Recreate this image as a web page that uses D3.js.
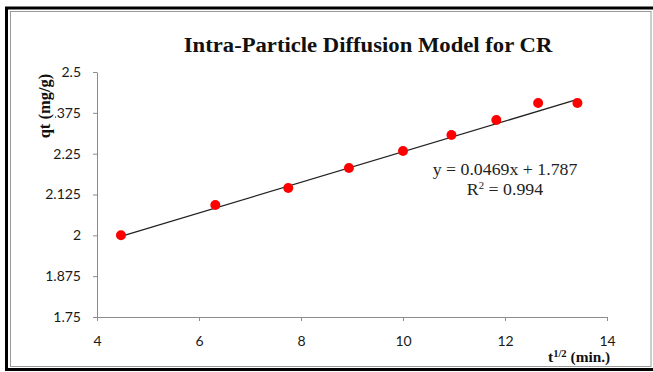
<!DOCTYPE html>
<html>
<head>
<meta charset="utf-8">
<script src="https://cdn.jsdelivr.net/npm/d3@7"></script>
<style>
  body { margin: 0; background: #fff; }
  .tick text { font-family: Lato, "Liberation Sans", sans-serif; font-size: 14px; fill: #1a1a1a; }
  .serif { font-family: "Liberation Serif", "Times New Roman", serif; }
</style>
</head>
<body>
<div id="chart"></div>
<script>
// ------------------------------------------------------------------------ //
// DATA
// ------------------------------------------------------------------------ //

// square root of time (min^1/2)
var tHalf = [4.47, 6.32, 7.75, 8.94, 10.0, 10.95, 11.83, 12.65, 13.42]
// qt (mg/g)
var qt = [2.0, 2.093, 2.145, 2.206, 2.258, 2.307, 2.353, 2.405, 2.405]

// linear trendline ends
var trendX = [4.47, 13.42]
var trendY = [1.997, 2.416]

var xTicks = [4, 6, 8, 10, 12, 14]
var yTicks = [1.75, 1.875, 2, 2.125, 2.25, 2.375, 2.5]
var yTickLabels = ["1.75", "1.875", "2", "2.125", "2.25", "2.375", "2.5"]

var title = "Intra-Particle Diffusion Model for CR"
var equation = "y = 0.0469x + 1.787"
var rSquared = "0.994"


// ------------------------------------------------------------------------ //
// SVG AREA
// ------------------------------------------------------------------------ //

var W = 653, H = 372
var svg = d3.select("#chart")
  .append("svg")
    .attr("width", W)
    .attr("height", H)

// frame: thick black outside, thin grey inside
svg.append("rect")
  .attr("x", 6.5).attr("y", 8)
  .attr("width", 660).attr("height", 361.5)
  .style("fill", "none")
  .style("stroke", "#000")
  .style("stroke-width", 3)
svg.append("rect")
  .attr("x", 10.5).attr("y", 11.5)
  .attr("width", 640.5).attr("height", 355)
  .style("fill", "none")
  .style("stroke", "#9a9a9a")
  .style("stroke-width", 1)


// ------------------------------------------------------------------------ //
// AXIS AND SCALE
// ------------------------------------------------------------------------ //

var x = d3.scaleLinear()
    .domain([4, 14])
    .range([97, 607])

var y = d3.scaleLinear()
    .domain([1.75, 2.5])
    .range([317, 72])

var xAxis = svg.append("g")
    .attr("transform", "translate(0," + y(1.75) + ")")
    .call(d3.axisBottom(x).tickValues(xTicks).tickSize(4).tickPadding(15).tickSizeOuter(0))

var yAxis = svg.append("g")
    .attr("transform", "translate(" + x(4) + ",0)")
    .call(d3.axisLeft(y).tickValues(yTicks).tickSize(4).tickPadding(12).tickSizeOuter(0)
      .tickFormat(function(d, i){ return yTickLabels[i] }))

svg.selectAll(".domain, .tick line")
  .style("stroke", "#8c8c8c")
  .style("stroke-width", 1)


// ------------------------------------------------------------------------ //
// TRENDLINE AND POINTS
// ------------------------------------------------------------------------ //

svg.append("line")
  .attr("x1", x(trendX[0])).attr("y1", y(trendY[0]))
  .attr("x2", x(trendX[1])).attr("y2", y(trendY[1]))
  .style("stroke", "#222")
  .style("stroke-width", 1.3)

svg.selectAll(".dot")
  .data(tHalf)
  .enter()
    .append("circle")
      .attr("class", "dot")
      .attr("cx", function(d){ return x(d) })
      .attr("cy", function(d, i){ return y(qt[i]) })
      .attr("r", 5)
      .style("fill", "#ff0000")


// ------------------------------------------------------------------------ //
// ANNOTATION
// ------------------------------------------------------------------------ //

// the source picture is a little stretched sideways
svg.append("text")
  .attr("class", "serif")
  .attr("transform", "translate(368,52) scale(1.08,1)")
  .attr("text-anchor", "middle")
  .style("font-size", "21px")
  .style("font-weight", "bold")
  .style("fill", "#111")
  .text(title)

// trendline label
svg.append("text")
  .attr("class", "serif")
  .attr("transform", "translate(505,175) scale(1.08,1)")
  .attr("text-anchor", "middle")
  .style("font-size", "16.5px")
  .style("fill", "#222")
  .text(equation)
var r2 = svg.append("text")
  .attr("class", "serif")
  .attr("transform", "translate(505,195) scale(1.08,1)")
  .attr("text-anchor", "middle")
  .style("font-size", "16.5px")
  .style("fill", "#222")
r2.append("tspan").text("R")
r2.append("tspan").attr("dy", -6).style("font-size", "10px").text("2")
r2.append("tspan").attr("dy", 6).text(" = " + rSquared)

// y axis title, white box behind it covers part of a tick label
var yTitle = svg.append("g")
  .attr("transform", "translate(50,106) rotate(-90)")
yTitle.append("rect")
  .attr("x", -35).attr("y", -14)
  .attr("width", 70).attr("height", 19)
  .style("fill", "#fff")
yTitle.append("text")
  .attr("class", "serif")
  .attr("text-anchor", "middle")
  .style("font-size", "16.5px")
  .style("font-weight", "bold")
  .style("fill", "#111")
  .text("qt (mg/g)")

// x axis title
var xTitle = svg.append("g")
  .attr("transform", "translate(548,362)")
xTitle.append("rect")
  .attr("x", 0).attr("y", -11)
  .attr("width", 74).attr("height", 14)
  .style("fill", "#fff")
var xt = xTitle.append("text")
  .attr("class", "serif")
  .attr("transform", "scale(1.06,1)")
  .style("font-size", "14.5px")
  .style("font-weight", "bold")
  .style("fill", "#111")
xt.append("tspan").text("t")
xt.append("tspan").attr("dy", -5).style("font-size", "10px").text("1/2")
xt.append("tspan").attr("dy", 5).text(" (min.)")
</script>
</body>
</html>
